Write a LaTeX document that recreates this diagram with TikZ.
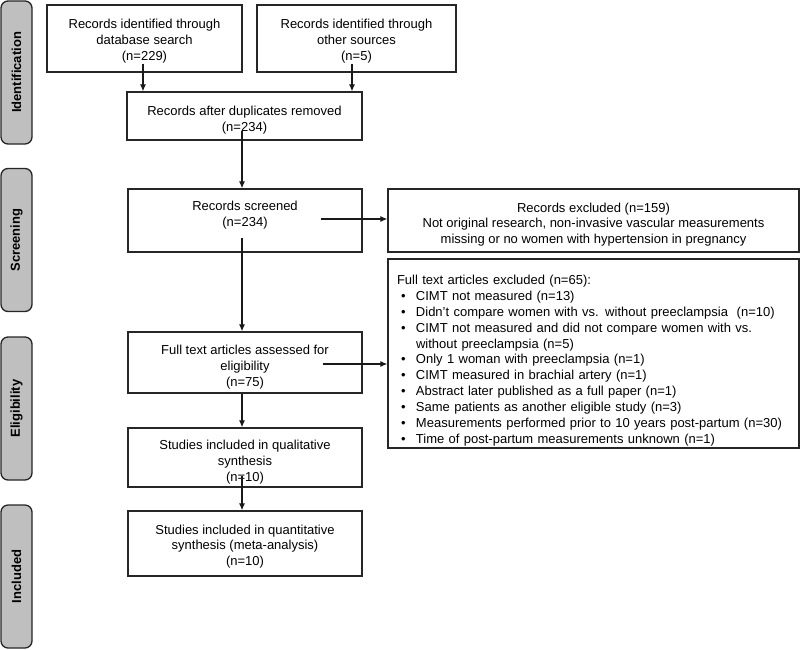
\documentclass[tikz,border=0pt]{standalone}
\usepackage{fontspec}
\setmainfont{Liberation Sans}
\usepackage{tikz}
\usetikzlibrary{arrows.meta}
\newcommand{\bul}{\makebox[19pt][l]{\hspace{4pt}\textbullet}}
\newcommand{\pushdown}[1]{\rule{0pt}{\dimexpr 9.5pt+#1\relax}}
\newcommand{\pushup}[1]{\rule[-\dimexpr 2.8pt+#1\relax]{0pt}{1pt}}

\begin{document}
\begin{tikzpicture}[x=1pt,y=-1pt,
 box/.style={draw=black!85,line width=1.3pt,align=center,inner sep=0pt,font=\fontsize{13}{15.9}\selectfont},
 tab/.style={draw=black!85,fill=black!25,line width=1.3pt,rounded corners=7pt,rotate=90,minimum width=143pt,minimum height=31pt,inner sep=0pt,font=\bfseries\fontsize{13}{15.9}\selectfont},
 arr/.style={-{Latex[length=7pt,width=6pt]},line width=1.2pt,draw=black!90}]
 \useasboundingbox (0,0) rectangle (800,649); %picture frame

 % side tabs
 \node[tab] (tid) at (16.5,72.5) {Identification};
 \node[tab] (tscr) at (16.5,240) {Screening};
 \node[tab] (telig) at (16.5,408.5) {Eligibility};
 \node[tab] (tincl) at (16.5,576.5) {Included};

 % main column
 \node[box,minimum width=195pt,minimum height=67pt] (db) at (144.5,38.5) {\pushdown{5pt}Records identified through\\database search\\(n=229)};
 \node[box,minimum width=199pt,minimum height=67pt] (oth) at (356.5,38.5) {\pushdown{5pt}Records identified through\\other sources\\(n=5)};
 \node[box,minimum width=235pt,minimum height=48pt] (dup) at (244.5,116) {\pushdown{9pt}Records after duplicates removed\\(n=234)};
 \node[box,minimum width=234pt,minimum height=63pt] (scr) at (245,220.5) {Records screened\\(n=234)\pushup{11pt}};
 \node[box,minimum width=234pt,minimum height=61pt] (fta) at (245,362.5) {\pushdown{9pt}Full text articles assessed for\\eligibility\\(n=75)};
 \node[box,minimum width=234pt,minimum height=59pt] (qual) at (245,457.5) {\pushdown{9pt}Studies included in qualitative\\synthesis\\(n=10)};
 \node[box,minimum width=234pt,minimum height=65pt] (quant) at (245,543.5) {\pushdown{6pt}Studies included in quantitative\\synthesis (meta-analysis)\\(n=10)};

 % exclusion boxes
 \node[box,minimum width=411pt,minimum height=63pt] (excl) at (593.5,220.5) {\pushdown{8pt}Records excluded (n=159)\\Not original research, non-invasive vascular measurements\\missing or no women with hypertension in pregnancy};
 \node[box,align=left,text width=393pt,inner xsep=9pt,minimum height=189pt] (ftexcl) at (593.5,353.5) {\pushdown{14pt}Full text articles excluded (n=65):\\
 \bul CIMT not measured (n=13)\\
 \bul Didn't compare women with vs. without preeclampsia~ (n=10)\\
 \bul CIMT not measured and did not compare women with vs.\\
 \hspace*{19pt}without preeclampsia (n=5)\\
 \bul Only 1 woman with preeclampsia (n=1)\\
 \bul CIMT measured in brachial artery (n=1)\\
 \bul Abstract later published as a full paper (n=1)\\
 \bul Same patients as another eligible study (n=3)\\
 \bul Measurements performed prior to 10 years post-partum (n=30)\\
 \bul Time of post-partum measurements unknown (n=1)};

 % connectors
 \draw[arr] ([xshift=-1.5pt,yshift=9pt]db.south) -- ([xshift=-1.5pt]db.south |- dup.north);
 \draw[arr] ([xshift=-4.5pt,yshift=9pt]oth.south) -- ([xshift=-4.5pt]oth.south |- dup.north);
 \draw[arr] ([xshift=-2.5pt,yshift=10pt]dup.south) -- ([xshift=-3pt]scr.north);
 \draw[arr] ([xshift=-42pt,yshift=1.5pt]scr.east) -- ([yshift=1.5pt]scr.east -| excl.west);
 \draw[arr] ([xshift=-3pt,yshift=15pt]scr.south) -- ([xshift=-3pt]fta.north);
 \draw[arr] ([xshift=-40pt,yshift=-1.5pt]fta.east) -- ([yshift=-1.5pt]fta.east -| ftexcl.west);
 \draw[arr] ([xshift=-3pt]fta.south) -- ([xshift=-3pt]qual.north);
 \draw[arr] ([xshift=-3pt,yshift=12pt]qual.south) -- ([xshift=-3pt]quant.north);
\end{tikzpicture}
\end{document}
